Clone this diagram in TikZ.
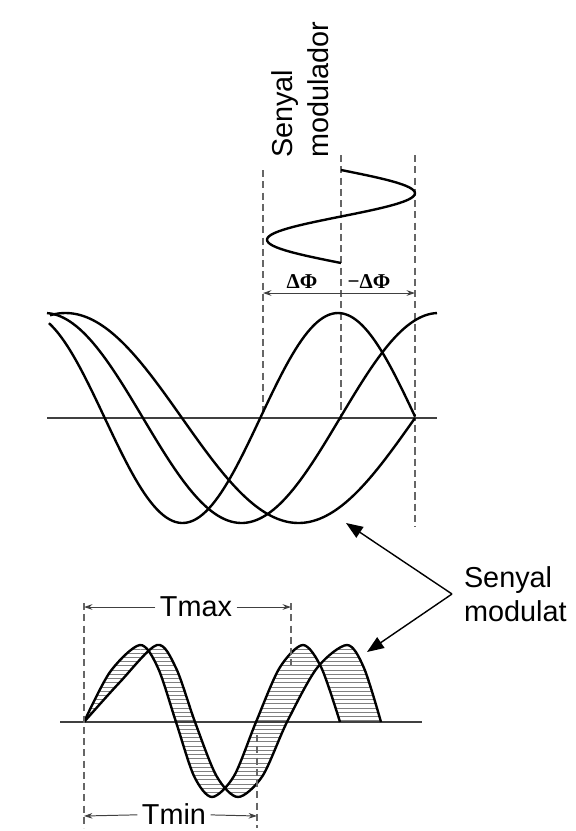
\documentclass[tikz,border=0pt]{standalone}
\usepackage{fontspec}
\setmainfont{Liberation Sans}
\newfontfamily\phifont{Liberation Serif}
\usetikzlibrary{arrows.meta}
\usetikzlibrary{patterns}

\begin{document}
\begin{tikzpicture}[x=0.025cm, y=-0.025cm,
    wave/.style={line width=1.7pt, line join=round},
    axisline/.style={line width=1.1pt, black!75},
    guide/.style={dash pattern=on 5pt off 3pt, line width=0.8pt, black!60},
    dimarrow/.style={-{Stealth[length=6pt,width=4pt]}, line width=0.7pt, black!75},
    callout/.style={-{Triangle[length=0.42cm,width=0.32cm]}, line width=1pt},
    lbl/.style={font=\fontsize{20.5}{24}\selectfont, inner sep=0pt},
    phi/.style={font=\phifont\fontsize{15}{18}\selectfont\bfseries, inner sep=0pt}]
          \useasboundingbox (0,0) rectangle (575,831);

          \node [lbl, rotate=90, anchor=base west] (smA) at (292,158) {Senyal};
          \node [lbl, rotate=90, anchor=base west] (smB) at (328,158) {modulador};

          \draw [guide] (263,170) -- (263,418);
          \draw [guide] (341,155) -- (341,420);
          \draw [guide] (415,155) -- (415,527);
          \draw [wave] plot [domain=170:263, samples=60] ({341+74*sin(3.871*(\x-170))}, \x);

          \coordinate (mL) at (263,293);
          \coordinate (mC) at (341,293);
          \coordinate (mR) at (415,293);
          \draw [dimarrow] (mC) -- (mL);
          \draw [dimarrow] (mC) -- (mR);
          \node [phi] (dphiL) at (302,282) {ΔΦ};
          \node [phi] (dphiR) at (369,282) {−ΔΦ};

          \draw [axisline] (47,418) -- (437,418);
          \draw [wave] plot [domain=49:415, samples=120] (\x, {418-105*cos(1.1576*(\x-27))});
          \draw [wave] plot [domain=47:437, samples=120] (\x, {418-105*cos(0.9137*(\x-44.5))});
          \draw [wave] plot [domain=50:415, samples=120] (\x, {418-105*cos(0.7725*(\x-65.5))});

          \node [lbl, anchor=west, align=left, outer xsep=0.3cm] (sm) at (452,594) {Senyal\\modulat};
          \coordinate (tipA) at (346,523);
          \coordinate (tipB) at (367,652);
          \draw [callout] (sm.west) -- (tipA);
          \draw [callout] (sm.west) -- (tipB);

          \fill [pattern=horizontal lines, pattern color=black!50]
            plot [smooth] coordinates {(84,722) (110,672) (140,645) (158,668) (176,722) (194,776) (212,797) (234,776) (256,722) (279.5,668) (303,645) (321.5,668) (340,722)}
            -- plot [smooth] coordinates {(381,722) (364,668) (347,645) (317,668) (287,722) (262.5,776) (238,797) (216.5,776) (195,722) (176,668) (157,645) (120,682) (84,722)}
            -- cycle;
          \draw [axisline] (60,722) -- (422,722);
          \draw [wave] plot [smooth] coordinates {(84,722) (110,672) (140,645) (158,668) (176,722) (194,776) (212,797) (234,776) (256,722) (279.5,668) (303,645) (321.5,668) (340,722)};
          \draw [wave] plot [smooth] coordinates {(84,722) (120,682) (157,645) (176,668) (195,722) (216.5,776) (238,797) (262.5,776) (287,722) (317,668) (347,645) (364,668) (381,722)};

          \draw [guide] (84,603) -- (84,828);
          \draw [guide] (291,603) -- (291,665);
          \draw [guide] (257,735) -- (257,828);

          \node [lbl, inner sep=3pt] (tmax) at (196,607) {Tmax};
          \coordinate (tmaxL) at (84,607);
          \coordinate (tmaxR) at (291,607);
          \draw [dimarrow] (tmax) -- (tmaxL);
          \draw [dimarrow] (tmax) -- (tmaxR);

          \node [lbl, inner sep=3pt] (tmin) at (174,814) {Tmin};
          \coordinate (tminL) at (84,816);
          \coordinate (tminR) at (257,816);
          \draw [dimarrow] (tmin) -- (tminL);
          \draw [dimarrow] (tmin) -- (tminR);
        \end{tikzpicture}
\end{document}
